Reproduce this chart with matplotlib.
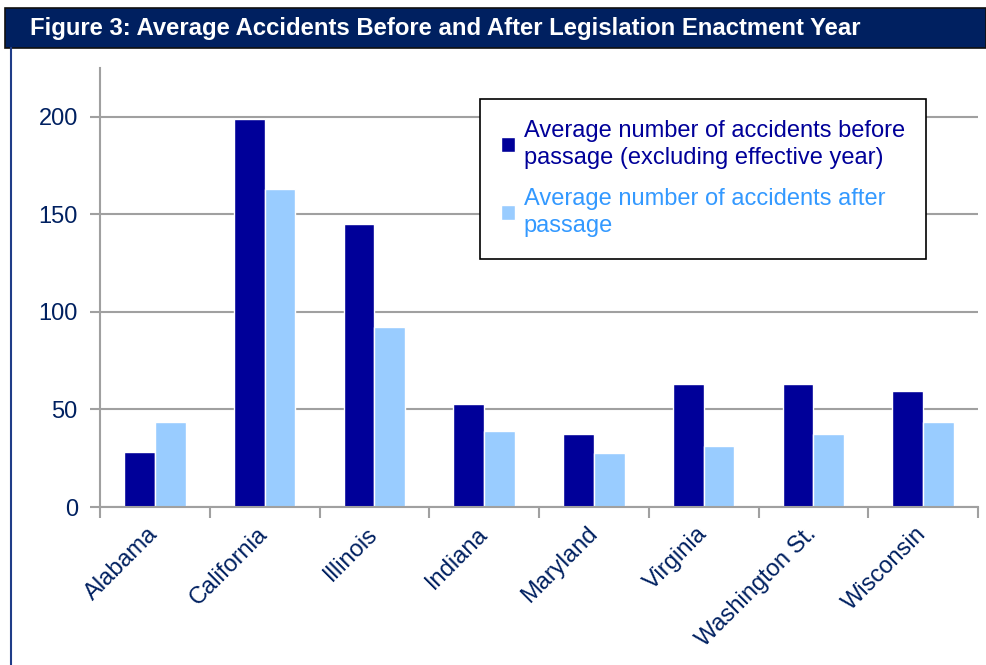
# Figure 3: average accidents before / after legislation enactment year.
# Excel-style clustered column chart with a navy title banner.

import matplotlib
matplotlib.use("Agg")
import matplotlib.pyplot as plt
from matplotlib.patches import Rectangle
from matplotlib.lines import Line2D
import numpy as np

STATES = ["Alabama", "California", "Illinois", "Indiana", "Maryland",
          "Virginia", "Washington St.", "Wisconsin"]
BEFORE = [28, 199, 145, 53, 37.5, 63, 63, 59.5]
AFTER = [43.5, 163, 92, 39, 27.5, 31.5, 37.5, 43.5]
Y_TICKS = [0, 50, 100, 150, 200]

TITLE = "Figure 3: Average Accidents Before and After Legislation Enactment Year"
LABEL_BEFORE = "Average number of accidents before\npassage (excluding effective year)"
LABEL_AFTER = "Average number of accidents after\npassage"

NAVY = "#002060"
DARK_BAR = "#000099"
LIGHT_BAR = "#99CCFF"
LIGHT_TEXT = "#3399FF"
GRID = "#A0A0A0"

W, H = 986, 665


def main():
    plt.rcParams.update({
        "font.family": ["Liberation Sans", "DejaVu Sans"],
        "font.size": 17,
    })

    fig = plt.figure(figsize=(W / 100, H / 100), dpi=100)
    fig.patch.set_facecolor("white")

    # title banner + left rule
    fig.patches.append(Rectangle(
        (5 / W, 1 - 48 / H), 1 - 5 / W, 40 / H, transform=fig.transFigure,
        facecolor=NAVY, edgecolor="#101010", linewidth=1.2))
    fig.text(30 / W, 1 - 28 / H, TITLE, color="white", fontweight="bold",
             fontsize=17.2, va="center", ha="left")
    fig.lines.append(Line2D([10.5 / W, 10.5 / W], [0, 1 - 48 / H],
                            transform=fig.transFigure, color="#1F3C88",
                            linewidth=1.5))

    ax = fig.add_axes([100 / W, (H - 507) / H, 878 / W, (507 - 68) / H])

    x = np.arange(len(STATES))
    width = 0.28
    ax.bar(x - width / 2, BEFORE, width, color=DARK_BAR, edgecolor="white",
           linewidth=1, zorder=3, label=LABEL_BEFORE)
    ax.bar(x + width / 2, AFTER, width, color=LIGHT_BAR, edgecolor="white",
           linewidth=1, zorder=3, label=LABEL_AFTER)

    ax.set_xlim(-0.5, len(STATES) - 0.5)
    ax.set_ylim(0, 225)

    # category boundaries get the tick marks, labels sit at the centers
    ax.set_xticks(np.arange(-0.5, len(STATES), 1))
    ax.set_xticklabels([])
    ax.set_xticks(x, STATES, minor=True, rotation=45, ha="right",
                  va="center", rotation_mode="anchor")
    ax.tick_params(axis="x", which="major", length=8, width=1.5,
                   color=GRID, direction="out")
    ax.tick_params(axis="x", which="minor", length=0, pad=17,
                   labelcolor=NAVY, labelsize=17)

    ax.set_yticks(Y_TICKS)
    ax.tick_params(axis="y", length=7, width=1.5, color=GRID, pad=9,
                   labelcolor=NAVY, labelsize=17)

    ax.yaxis.grid(True, color=GRID, linewidth=1.5)
    ax.set_axisbelow(True)
    for spine in ("top", "right"):
        ax.spines[spine].set_visible(False)
    for spine in ("left", "bottom"):
        ax.spines[spine].set_color(GRID)
        ax.spines[spine].set_linewidth(1.5)
    ax.spines["bottom"].set_zorder(4)

    leg = ax.legend(loc="upper left", bbox_to_anchor=(480 / W, 1 - 99 / H),
                    bbox_transform=fig.transFigure, borderaxespad=0,
                    fancybox=False, framealpha=1, edgecolor="black",
                    fontsize=17, handlelength=0.6, handleheight=0.6,
                    handletextpad=0.35, labelspacing=0.8, borderpad=0.9)
    leg.get_frame().set_linewidth(1.2)
    leg.set_zorder(5)
    for text, color in zip(leg.get_texts(), [DARK_BAR, LIGHT_TEXT]):
        text.set_color(color)
        text.set_linespacing(1.3)

    fig.savefig("out.png", dpi=100, facecolor="white")


if __name__ == "__main__":
    main()
